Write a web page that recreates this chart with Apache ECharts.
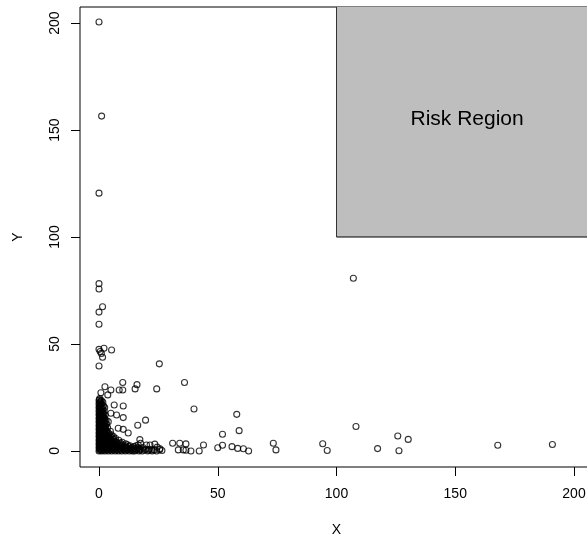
<!DOCTYPE html>
<html>
<head>
<meta charset="utf-8">
<script src="https://cdn.jsdelivr.net/npm/echarts@6/dist/echarts.min.js"></script>
<style>
html,body{margin:0;padding:0;background:#fff;}
#chart{width:587px;height:539px;}
</style>
</head>
<body>
<div id="chart"></div>
<script>
// axis ranges and ticks
const xMin = -8, xMax = 208;
const yMin = -7.5, yMax = 207.5;
const xTicks = [0, 50, 100, 150, 200];
const yTicks = [0, 50, 100, 150, 200];

// risk region threshold and label anchor
const riskX = 100, riskY = 100;
const riskLabel = 'Risk Region';
const riskLabelPos = [155, 155];

// dense cluster near origin
const clusterPoints = [
[0.3,24.5],
[0,23.6],[1.0,23.6],
[0.5,22.8],[1.6,22.8],
[0,22.0],[1.1,22.0],
[0.4,21.1],[1.9,21.1],
[0,20.3],[0.9,20.3],[2.4,20.3],
[0.5,19.4],[1.5,19.4],
[0,18.6],[1.0,18.6],[2.2,18.6],
[0.4,17.7],[1.6,17.7],
[0,16.9],[1.0,16.9],[2.6,16.9],
[0.5,16.0],[1.7,16.0],
[0,15.2],[1.1,15.2],[2.3,15.2],
[0.4,14.3],[1.5,14.3],[3.0,14.3],
[0,13.5],[0.9,13.5],[2.1,13.5],
[0.5,12.6],[1.6,12.6],[3.2,12.6],
[0,11.8],[1.0,11.8],[2.4,11.8],
[0.4,10.9],[1.8,10.9],[3.6,10.9],
[0,10.1],[1.2,10.1],[2.7,10.1],
[0.6,9.2],[1.9,9.2],[3.3,9.2],[4.8,9.2],
[0,8.4],[1.1,8.4],[2.5,8.4],[4.0,8.4],
[0.5,7.5],[1.8,7.5],[3.0,7.5],[5.2,7.5],
[0,6.7],[1.3,6.7],[2.6,6.7],[3.9,6.7],[6.1,6.7],
[0.6,5.8],[1.9,5.8],[3.2,5.8],[4.6,5.8],[7.0,5.8],
[0,5.0],[1.2,5.0],[2.5,5.0],[3.8,5.0],[5.4,5.0],[8.3,5.0],
[0.5,4.1],[1.7,4.1],[3.0,4.1],[4.4,4.1],[6.0,4.1],[7.6,4.1],[9.8,4.1],
[0,3.3],[1.1,3.3],[2.3,3.3],[3.6,3.3],[5.0,3.3],[6.7,3.3],[8.5,3.3],[11.2,3.3],
[0.4,2.4],[1.6,2.4],[2.9,2.4],[4.3,2.4],[5.8,2.4],[7.4,2.4],[9.1,2.4],[10.9,2.4],[13.0,2.4],[15.6,2.4],
[0,1.6],[1.0,1.6],[2.2,1.6],[3.5,1.6],[4.9,1.6],[6.5,1.6],[8.0,1.6],[9.7,1.6],[11.6,1.6],[13.8,1.6],[16.4,1.6],[18.5,1.6],
[0.5,0.8],[1.7,0.8],[3.0,0.8],[4.4,0.8],[5.9,0.8],[7.3,0.8],[8.9,0.8],[10.5,0.8],[12.2,0.8],[14.3,0.8],[15.9,0.8],[17.5,0.8],[19.6,0.8],[21.3,0.8],
[0,0],[1.2,0],[2.5,0],[3.9,0],[5.3,0],[6.8,0],[8.2,0],[9.6,0],[11.1,0],[12.7,0],[14.1,0],[15.0,0],[16.8,0],[18.2,0],[20.5,0],[22.4,0],[24.3,0]
];

// more points inside the dense cluster
const clusterPoints2 = [
[0.2,24.0],[0.7,23.2],[0.2,22.4],[0.8,21.6],[0.2,20.7],[1.4,20.8],[0.2,19.8],[1.0,19.0],[0.2,18.2],[1.3,18.1],
[0.2,17.3],[0.9,17.3],[2.0,17.2],[0.2,16.5],[1.3,16.4],[0.2,15.6],[0.7,15.6],[1.8,15.7],[0.2,14.8],[1.0,14.7],
[2.2,14.8],[0.2,13.9],[1.3,14.0],[2.6,13.9],[0.2,13.0],[1.1,13.1],[2.6,13.0],[0.2,12.2],[1.3,12.2],[2.0,12.3],
[0.2,11.3],[1.4,11.4],[2.8,11.4],[0.2,10.5],[0.8,10.5],[2.2,10.5],[0.2,9.6],[1.4,9.7],[2.6,9.6],[0.2,8.8],
[1.6,8.8],[3.2,8.8],[0.2,7.9],[1.2,8.0],[2.4,7.9],[3.8,8.0],[0.2,7.1],[1.0,7.1],[2.2,7.2],[3.4,7.1],
[4.6,7.0],[0.2,6.2],[1.5,6.3],[2.8,6.2],[4.2,6.3],[5.5,6.1],[0.2,5.4],[1.6,5.4],[2.9,5.5],[4.3,5.4],
[6.2,5.5],[0.2,4.6],[0.9,4.6],[2.2,4.7],[3.5,4.6],[5.0,4.7],[6.8,4.6],[0.2,3.7],[1.4,3.8],[2.7,3.7],
[4.0,3.8],[5.5,3.7],[7.2,3.8],[9.0,3.7],[0.2,2.9],[1.8,2.9],[3.2,2.8],[4.7,2.9],[6.3,2.8],[8.0,2.9],
[9.8,2.8],[12.0,2.9],[0.2,2.0],[1.4,2.0],[2.7,2.1],[4.1,2.0],[5.6,2.0],[7.1,2.1],[8.7,2.0],[10.3,2.0],
[12.4,2.1],[14.7,2.0],[0.2,1.2],[1.4,1.2],[2.7,1.2],[4.0,1.1],[5.5,1.2],[7.0,1.2],[8.5,1.1],[10.1,1.2],
[11.8,1.2],[13.2,1.1],[15.1,1.2],[17.0,1.2],[0.2,0.4],[0.9,0.4],[2.0,0.4],[3.4,0.4],[4.8,0.4],[6.2,0.4],
[7.7,0.4],[9.2,0.4],[10.8,0.4],[12.0,0.4],[13.5,0.4],[15.4,0.4],[17.1,0.4],[19.0,0.4],[20.8,0.4],[23.3,0.4]
];

// scattered points around the cluster
const nearPoints = [
[0.8,27.2],[3.7,26.2],[2.5,30],[5,28.5],[8.5,28.5],[10,28.5],[10,32],[15.2,29],[16,31],[24.3,29],
[6.4,21.5],[10.2,21],[10.2,15.6],[7.4,16.8],[5,17.6],[3.9,13.7],[8.1,10.6],[10.2,10.1],[12.3,8.4],
[19.6,14.4],[16.3,12],[17.2,5.3],[17.5,3.6],[16.5,2.8],[20,2.8],[21.5,2.8],[22.2,0.5],[23.5,3.2],
[25.7,1],[26.5,0.2],[24.5,1.8],[25.5,0.6]
];

// high-Y points
const highPoints = [
[0,200.5],[1.1,156.5],[0,120.5],[0,78.2],[0,75.7],[1.5,67.4],[0,64.9],[0,59.2],
[0,47.5],[0.5,46.5],[2.1,48],[5.3,47.2],[1,45.6],[1.5,43.8],[0,39.7],[25.4,40.7],
[36,32],[40,19.6],[58,17.1],[59,9.5],[52,7.8],[107.1,80.7],[108.2,11.4]
];

// high-X, low-Y points
const farPoints = [
[31,3.6],[34,3.6],[36.6,3.3],[33.4,0.5],[35.5,0.5],[36.6,0.3],[38.7,0],[42.2,0],[44,2.8],
[50,1.5],[52,2.7],[56,2],[58.4,1.2],[60.8,1],[63,0],[73.4,3.6],[74.5,0.5],[94.2,3.4],[96.1,0.2],
[117.3,1.1],[125.8,7],[126.3,0.1],[130.2,5.4],[167.9,2.7],[190.9,3]
];

const allPoints = clusterPoints.concat(clusterPoints2, nearPoints, highPoints, farPoints);
const FONT = '"Liberation Sans", Arial, Helvetica, sans-serif';

const chart = echarts.init(document.getElementById('chart'), null, {renderer: 'canvas'});
chart.setOption({
  animation: false,
  backgroundColor: '#fff',
  grid: {left: 80, top: 7, width: 513, height: 460, show: true, borderColor: '#000', borderWidth: 1,
         backgroundColor: 'transparent', containLabel: false, outerBoundsMode: 'none'},
  xAxis: {
    type: 'value', min: xMin, max: xMax, position: 'bottom',
    axisLine: {show: false, onZero: false},
    axisTick: {show: true, customValues: xTicks, length: 9, lineStyle: {color: '#000', width: 1}},
    axisLabel: {customValues: xTicks, fontSize: 14, color: '#000', margin: 20, fontFamily: FONT},
    splitLine: {show: false},
    name: 'X', nameLocation: 'middle', nameGap: 56,
    nameTextStyle: {fontSize: 14, color: '#000', fontFamily: FONT}
  },
  yAxis: {
    type: 'value', min: yMin, max: yMax, position: 'left',
    axisLine: {show: false, onZero: false},
    axisTick: {show: true, customValues: yTicks, length: 9, lineStyle: {color: '#000', width: 1}},
    axisLabel: {customValues: yTicks, fontSize: 14, color: '#000', margin: 18, rotate: 90, fontFamily: FONT},
    splitLine: {show: false},
    name: 'Y', nameLocation: 'middle', nameGap: 55,
    nameTextStyle: {fontSize: 14, color: '#000', fontFamily: FONT}
  },
  series: [
    {
      type: 'scatter',
      data: allPoints,
      symbol: 'circle',
      symbolSize: 6,
      itemStyle: {color: 'transparent', borderColor: '#000', borderWidth: 1.1},
      z: 2
    },
    {
      type: 'custom',
      data: [[riskX, riskY]],
      z: 3,
      renderItem: function (params, api) {
        const p0 = api.coord([api.value(0), api.value(1)]);
        const p1 = api.coord([xMax, yMax]);
        const pl = api.coord(riskLabelPos);
        return {
          type: 'group',
          children: [
            {type: 'rect', shape: {x: p0[0], y: p1[1], width: p1[0] - p0[0], height: p0[1] - p1[1]}, style: {fill: '#BEBEBE'}},
            {type: 'line', shape: {x1: p0[0], y1: p0[1], x2: p1[0], y2: p0[1]}, style: {stroke: '#000', lineWidth: 1}},
            {type: 'line', shape: {x1: p0[0], y1: p0[1], x2: p0[0], y2: p1[1]}, style: {stroke: '#333', lineWidth: 1}},
            {type: 'text', style: {text: riskLabel, x: pl[0], y: pl[1], align: 'center', verticalAlign: 'middle', fontSize: 21, fontFamily: FONT, fill: '#000'}}
          ]
        };
      }
    }
  ]
});
</script>
</body>
</html>
